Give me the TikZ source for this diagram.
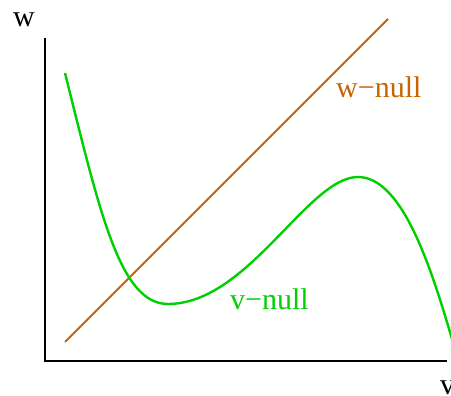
\documentclass[tikz,border=0pt]{standalone}
\usepackage{fontspec}
\setmainfont{Liberation Serif}
\usepackage{tikz}
\usetikzlibrary{positioning, calc}
\definecolor{wnullc}{HTML}{C86400}
\definecolor{vnullc}{HTML}{00D000}

\begin{document}
\begin{tikzpicture}[
    x=1pt, y=1pt,
    axis/.style={draw=black, line width=1.2pt},
    nullw/.style={draw=wnullc, line width=2pt},
    nullv/.style={draw=vnullc, line width=2.4pt},
    lbl/.style={font=\fontsize{30}{36}\selectfont, inner sep=0pt, anchor=base west},
]
\useasboundingbox (0,0) rectangle (451,396);

% ===== Axes =====
\coordinate (origin) at (45,35);
\coordinate (ytop) at (45,358);
\coordinate (xend) at (447,35);
\draw[axis] (ytop) -- (origin) -- (xend);

\node[lbl] (wlab) at (13,369) {w};
\node[lbl] (vlab) at (440,1) {v};

% ===== w-nullcline =====
\coordinate (wa) at (65,54);
\coordinate (wb) at (388,377);
\draw[nullw] (wa) -- (wb);
\node[lbl, text=wnullc] (wnull) at (336,298) {w−null};

% ===== v-nullcline =====
\coordinate (vstart) at (65,323);
\coordinate (vmin) at (168,92);
\coordinate (vmax) at (358,219);
\coordinate (vend) at (452,57);
\draw[nullv] (vstart) .. controls (100,183) and (120,92) .. (vmin)
  .. controls (248,92) and (308,219) .. (vmax)
  .. controls (403,219) and (432,125) .. (vend);
\node[lbl, text=vnullc] (vnull) at (230,86) {v−null};

\end{tikzpicture}
\end{document}
